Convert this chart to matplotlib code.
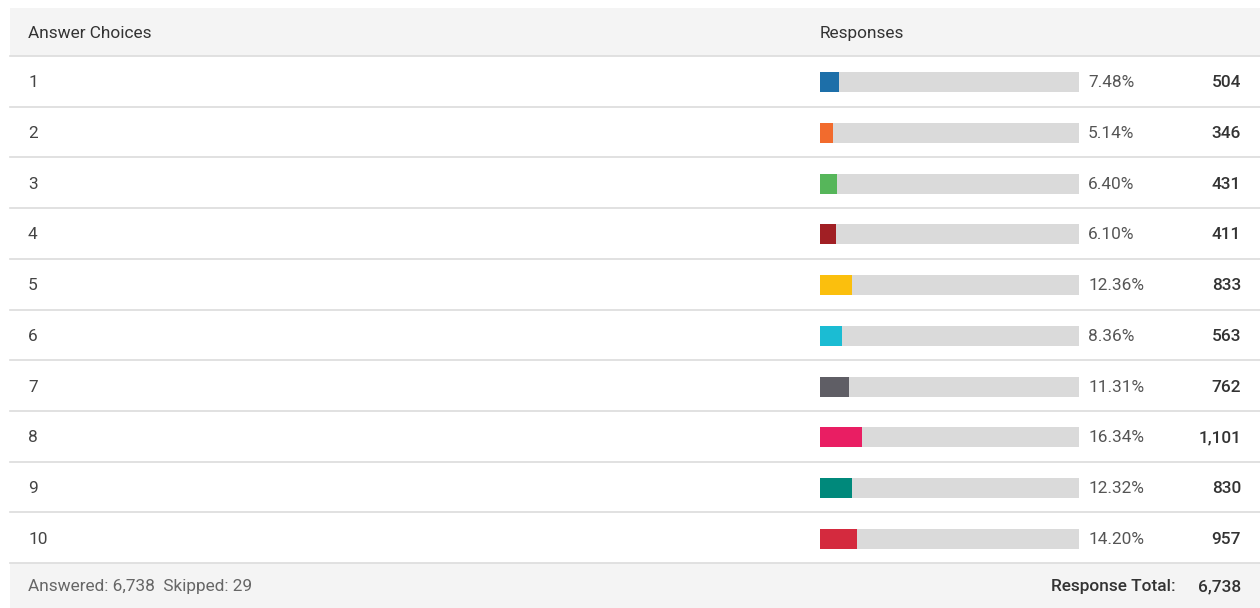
import matplotlib.pyplot as plt
import numpy as np

# data
choices = ['1', '2', '3', '4', '5', '6', '7', '8', '9', '10']
percents = [7.48, 5.14, 6.40, 6.10, 12.36, 8.36, 11.31, 16.34, 12.32, 14.20]
counts = ['504', '346', '431', '411', '833', '563', '762', '1,101', '830', '957']
colors = ['#1d6fa9', '#f26b2d', '#56b65a', '#a11f24', '#fbbf0d',
          '#1bbcd3', '#5f5e65', '#e91e63', '#00897b', '#d42a3e']
answered = '6,738'
skipped = '29'
total = '6,738'

plt.rcParams['font.family'] = ['Roboto', 'DejaVu Sans']

W, H = 1260, 608
fig = plt.figure(figsize=(W / 100, H / 100), dpi=100)
ax = fig.add_axes([0, 0, 1, 1])
ax.set_xlim(0, W)
ax.set_ylim(H, 0)
ax.axis('off')

# layout in pixels
left = 10
head_top, head_bot = 8, 56
row_h = 50.7
foot_top = head_bot + row_h * len(choices)
track_x, track_w = 820, 259
fs = 12.4
dy = 1.5   # small nudge so text sits like the reference

# header and footer bands
ax.axhspan(head_top, head_bot, xmin=left / W, xmax=1, color='#f4f4f4', lw=0)
ax.axhspan(foot_top, H, xmin=left / W, xmax=1, color='#f4f4f4', lw=0)
hy = (head_top + head_bot) / 2 + dy
ax.text(28, hy, 'Answer Choices', fontsize=fs, color='#333333', va='center')
ax.text(track_x, hy, 'Responses', fontsize=fs, color='#333333', va='center')

# row separators
for i in range(len(choices) + 1):
    y = head_bot + row_h * i
    ax.plot([left, W], [y, y], color='#dcdcdc', lw=1.2)

y_pos = head_bot + row_h * (np.arange(len(choices)) + 0.5)
scale = track_w / 100

ax.barh(y_pos + 1, [100 * scale] * len(choices), left=track_x, height=20, color='#dadada', lw=0)
ax.barh(y_pos + 1, np.array(percents) * scale, left=track_x, height=20, color=colors, lw=0)

for y, c, p, n in zip(y_pos + dy, choices, percents, counts):
    ax.text(28, y, c, fontsize=fs, color='#444444', va='center')
    ax.text(1088, y, f'{p:.2f}%', fontsize=fs, color='#555555', va='center')
    ax.text(1241, y, n, fontsize=fs, color='#333333', va='center', ha='right', fontweight='medium')

fy = (foot_top + H) / 2 + dy
ax.text(28, fy, f'Answered: {answered}  Skipped: {skipped}', fontsize=fs, color='#666666', va='center')
ax.text(1176, fy, 'Response Total:', fontsize=fs, color='#333333', va='center', ha='right', fontweight='medium')
ax.text(1241, fy, total, fontsize=fs, color='#333333', va='center', ha='right', fontweight='medium')

fig.savefig('out.png', dpi=100)
